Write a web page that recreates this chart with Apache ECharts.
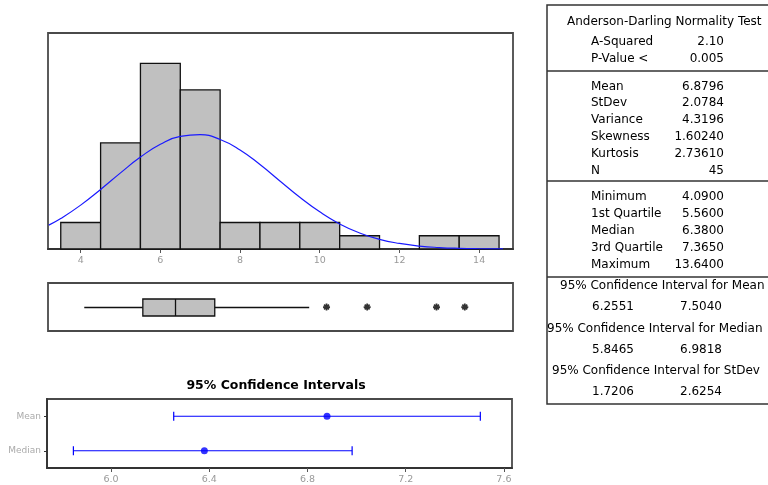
<!DOCTYPE html>
<html>
<head>
<meta charset="utf-8">
<script src="https://cdn.jsdelivr.net/npm/echarts@6/dist/echarts.min.js"></script>
<style>
html,body{margin:0;padding:0;background:#fff;}
#chart{width:768px;height:485px;}
</style>
</head>
<body>
<div id="chart"></div>
<script>
// ---------- data ----------
const binEdges = [3.5, 4.5, 5.5, 6.5, 7.5, 8.5, 9.5, 10.5, 11.5, 12.5, 13.5, 14.5];
const binCounts = [2, 8, 14, 12, 2, 2, 2, 1, 0, 1, 1];
const curveX = [3.2, 3.5, 4.0, 4.5, 5.0, 5.5, 6.0, 6.5, 7.0, 7.5, 8.0, 8.5, 9.0, 9.5, 10.0, 10.5, 11.0, 11.5, 12.0, 12.5, 13.0, 13.5, 14.0, 14.5, 14.6];
const curveY = [1.80, 2.30, 3.31, 4.49, 5.74, 6.93, 7.90, 8.49, 8.62, 8.26, 7.47, 6.37, 5.13, 3.90, 2.80, 1.89, 1.21, 0.73, 0.42, 0.22, 0.11, 0.05, 0.02, 0.01, 0.008];
const histTicks = [4, 6, 8, 10, 12, 14];
const boxStats = [4.09, 5.56, 6.38, 7.365, 9.735]; // whisker low, Q1, median, Q3, whisker high
const outliers = [10.17, 11.19, 12.93, 13.64];
const ciCategories = ['Mean', 'Median'];
const ciLow = [6.2551, 5.8465];
const ciHigh = [7.5040, 6.9818];
const ciEstimate = [6.8796, 6.3800];
const ciTicks = [6.0, 6.4, 6.8, 7.2, 7.6];
const tableAD = [['A-Squared', '2.10'], ['P-Value <', '0.005']];
const tableMoments = [['Mean', '6.8796'], ['StDev', '2.0784'], ['Variance', '4.3196'], ['Skewness', '1.60240'], ['Kurtosis', '2.73610'], ['N', '45']];
const tableQuantiles = [['Minimum', '4.0900'], ['1st Quartile', '5.5600'], ['Median', '6.3800'], ['3rd Quartile', '7.3650'], ['Maximum', '13.6400']];
const tableCI = [['95% Confidence Interval for Mean', '6.2551', '7.5040'], ['95% Confidence Interval for Median', '5.8465', '6.9818'], ['95% Confidence Interval for StDev', '1.7206', '2.6254']];

// ---------- layout helpers ----------
const FONT = '"DejaVu Sans", sans-serif';
const frameColor = '#4a4a4a';
const histMin = 3.18, histMax = 14.85;
const ciMin = 5.739, ciMax = 7.633;

const histData = binCounts.map((c, i) => [binEdges[i], binEdges[i + 1], c]);
const curveData = curveX.map((x, i) => [x, curveY[i]]);

const asterisk = 'path://M-1,-4L1,-4L1,4L-1,4Z' +
  'M-4,-1L4,-1L4,1L-4,1Z' +
  'M-3.536,-2.121L-2.121,-3.536L3.536,2.121L2.121,3.536Z' +
  'M2.121,-3.536L3.536,-2.121L-2.121,3.536L-3.536,2.121Z';

// table graphics
const g = [];
const tx = (x, y, text, align, extra) => g.push({
  type: 'text', x: x, y: y, z: 10,
  style: Object.assign({ text: text, fill: '#000', font: '12px ' + FONT, align: align || 'left', verticalAlign: 'middle' }, extra || {})
});
const hl = (y) => g.push({ type: 'line', z: 10, shape: { x1: 547, y1: y, x2: 768, y2: y }, style: { stroke: '#333', lineWidth: 1.5 } });
g.push({ type: 'rect', z: 10, shape: { x: 547, y: 5, width: 230, height: 399 }, style: { fill: null, stroke: '#333', lineWidth: 1.5 } });
const labX = 591, valX = 724;
const headLeft = [560, 547, 552];
tx(567, 22, 'Anderson-Darling Normality Test', 'left');
tableAD.forEach((r, i) => { tx(labX, 42 + i * 17, r[0]); tx(valX, 42 + i * 17, r[1], 'right'); });
hl(71);
tableMoments.forEach((r, i) => { tx(labX, 86.5 + i * 16.8, r[0]); tx(valX, 86.5 + i * 16.8, r[1], 'right'); });
hl(181);
tableQuantiles.forEach((r, i) => { tx(labX, 197 + i * 16.9, r[0]); tx(valX, 197 + i * 16.9, r[1], 'right'); });
hl(277);
tableCI.forEach((r, i) => {
  const y = 286 + i * 42.5;
  tx(headLeft[i], y, r[0], 'left');
  tx(613, y + 21, r[1], 'center');
  tx(701, y + 21, r[2], 'center');
});
// CI title
tx(276, 386, '95% Confidence Intervals', 'center', { font: 'bold 12.5px ' + FONT });

const option = {
  animation: false,
  backgroundColor: '#fff',
  graphic: g,
  grid: [
    { left: 48, right: 255, top: 33, bottom: 236, show: true, borderColor: frameColor, borderWidth: 1.8, backgroundColor: '#fff' },
    { left: 48, right: 255, top: 283, bottom: 154, show: true, borderColor: frameColor, borderWidth: 1.8 },
    { left: 47, right: 256, top: 399, bottom: 16, show: true, borderColor: frameColor, borderWidth: 1.8 }
  ],
  xAxis: [
    {
      gridIndex: 0, type: 'value', min: histMin, max: histMax,
      axisLine: { show: true, lineStyle: { color: '#333', width: 1.8 } },
      axisTick: { show: true, length: 4, customValues: histTicks, lineStyle: { color: '#555' } },
      axisLabel: { customValues: histTicks, color: '#999', fontSize: 9.5, fontFamily: FONT, margin: 7 },
      splitLine: { show: false }
    },
    { gridIndex: 1, type: 'value', min: histMin, max: histMax, show: false, splitLine: { show: false } },
    {
      gridIndex: 2, type: 'value', min: ciMin, max: ciMax,
      axisLine: { show: true, lineStyle: { color: '#333', width: 1.8 } },
      axisTick: { show: true, length: 4, customValues: ciTicks, lineStyle: { color: '#555' } },
      axisLabel: { customValues: ciTicks, color: '#999', fontSize: 9.5, fontFamily: FONT, margin: 7, formatter: v => v.toFixed(1) },
      splitLine: { show: false }
    }
  ],
  yAxis: [
    { gridIndex: 0, type: 'value', min: 0, max: 16.29, show: false, splitLine: { show: false } },
    { gridIndex: 1, type: 'value', min: 0, max: 1, show: false, splitLine: { show: false } },
    {
      gridIndex: 2, type: 'category', data: ciCategories, inverse: true,
      axisLine: { show: true, lineStyle: { color: '#333', width: 1.8 } },
      axisTick: { show: true, length: 3, alignWithLabel: true, lineStyle: { color: '#333' } },
      axisLabel: { color: '#aaa', fontSize: 9, fontFamily: FONT, margin: 6 }
    }
  ],
  series: [
    {
      type: 'custom', xAxisIndex: 0, yAxisIndex: 0, data: histData, z: 2,
      renderItem: function (params, api) {
        const c = api.value(2);
        if (!c) return null;
        const p0 = api.coord([api.value(0), c]);
        const p1 = api.coord([api.value(1), 0]);
        return { type: 'rect', shape: { x: p0[0], y: p0[1], width: p1[0] - p0[0], height: p1[1] - p0[1] },
          style: { fill: '#c0c0c0', stroke: '#111', lineWidth: 1.3 } };
      }
    },
    {
      type: 'line', xAxisIndex: 0, yAxisIndex: 0, data: curveData, smooth: true, showSymbol: false, symbol: 'none', z: 5,
      lineStyle: { color: '#1a1aff', width: 1.2 }
    },
    {
      type: 'custom', xAxisIndex: 1, yAxisIndex: 1, data: [boxStats], z: 3,
      renderItem: function (params, api) {
        const v = [0, 1, 2, 3, 4].map(i => api.coord([api.value(i), 0.5]));
        const y = Math.round(v[0][1]) + 0.5, h = 8.5;
        const st = { stroke: '#111', lineWidth: 1.3 };
        return { type: 'group', children: [
          { type: 'line', shape: { x1: v[0][0], y1: y, x2: v[1][0], y2: y }, style: st },
          { type: 'line', shape: { x1: v[3][0], y1: y, x2: v[4][0], y2: y }, style: st },
          { type: 'rect', shape: { x: v[1][0], y: y - h, width: v[3][0] - v[1][0], height: 2 * h }, style: { fill: '#c0c0c0', stroke: '#111', lineWidth: 1.3 } },
          { type: 'line', shape: { x1: v[2][0], y1: y - h, x2: v[2][0], y2: y + h }, style: st }
        ] };
      }
    },
    {
      type: 'scatter', xAxisIndex: 1, yAxisIndex: 1, data: outliers.map(v => [v, 0.5]),
      symbol: asterisk, symbolSize: 7, itemStyle: { color: '#000' }, z: 4
    },
    {
      type: 'custom', xAxisIndex: 2, yAxisIndex: 2, data: ciCategories.map((c, i) => [ciLow[i], ciHigh[i], i]), z: 3,
      renderItem: function (params, api) {
        const a = api.coord([api.value(0), api.value(2)]);
        const b = api.coord([api.value(1), api.value(2)]);
        const st = { stroke: '#0000ff', lineWidth: 1.2 };
        const h = 4.5;
        return { type: 'group', children: [
          { type: 'line', shape: { x1: a[0], y1: a[1], x2: b[0], y2: b[1] }, style: st },
          { type: 'line', shape: { x1: a[0], y1: a[1] - h, x2: a[0], y2: a[1] + h }, style: st },
          { type: 'line', shape: { x1: b[0], y1: b[1] - h, x2: b[0], y2: b[1] + h }, style: st }
        ] };
      }
    },
    {
      type: 'scatter', xAxisIndex: 2, yAxisIndex: 2, data: ciEstimate.map((v, i) => [v, i]),
      symbol: 'circle', symbolSize: 7, itemStyle: { color: '#0000ff' }, z: 4
    }
  ]
};
const chart = echarts.init(document.getElementById('chart'), null, { renderer: 'canvas' });
chart.setOption(option);
</script>
</body>
</html>
